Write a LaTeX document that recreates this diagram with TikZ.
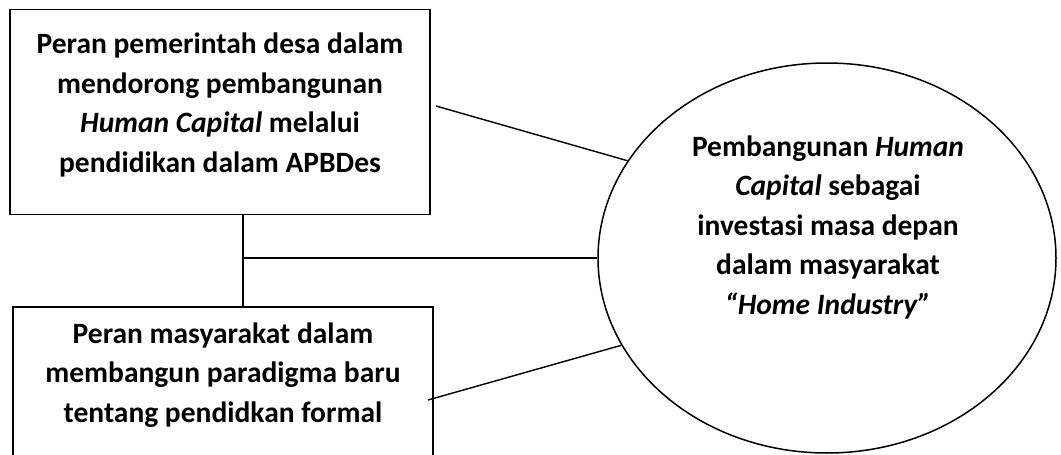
\documentclass[tikz,border=0pt]{standalone}
\usepackage{fontspec}
\setmainfont{Carlito}
\usetikzlibrary{shapes.geometric}
\tikzset{
  frame/.style={draw=black, line width=1.5pt, inner sep=0pt},
  conn/.style={draw=black, line width=1.4pt},
  label/.style={font=\fontsize{29.5}{39.5}\selectfont\bfseries, align=center, inner sep=0pt}
}
\begin{document}
\begin{tikzpicture}[x=1pt,y=-1pt]
\useasboundingbox (0,0) rectangle (1061,455);
\clip (0,0) rectangle (1061,455);
\fill[white] (0,0) rectangle (1061,455);
% boxes
\node[frame, minimum width=420pt, minimum height=205pt] (b1) at (220,112) {};
\node[frame, minimum width=420pt, minimum height=180pt] (b2) at (223,397) {};
\node[frame, ellipse, minimum width=458pt, minimum height=390pt] (ell) at (827,258) {};
% texts
\node[label] (t1) at (220,105) {Peran pemerintah desa dalam\\mendorong pembangunan\\\textit{Human Capital} melalui\\pendidikan dalam APBDes};
\node[label] (t2) at (223,375) {Peran masyarakat dalam\\membangun paradigma baru\\tentang pendidkan formal};
\node[label] (t3) at (828,227) {Pembangunan \textit{Human}\\\textit{Capital} sebagai\\investasi masa depan\\dalam masyarakat\\\textit{“Home Industry”}};
% connectors
\coordinate (j) at (243,258);
\coordinate (s1) at (436,106);
\coordinate (s2) at (428,400);
\draw[conn] (b1.south -| j) -- (b2.north -| j);
\draw[conn] (j) -- (ell.west);
\draw[conn] (s1) -- (ell.154.8);
\draw[conn] (s2) -- (ell.-157.3);
\end{tikzpicture}
\end{document}
